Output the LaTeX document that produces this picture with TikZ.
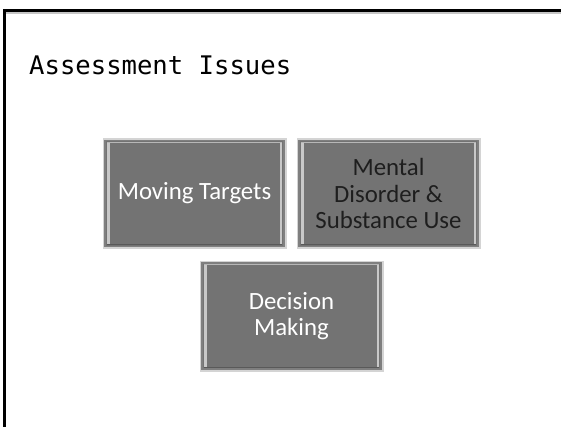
\documentclass[tikz,border=0pt]{standalone}
\usepackage{fontspec}
\setmainfont{Carlito}
\newfontfamily\titlefont{DejaVu Sans Mono}
\definecolor{boxfill}{HTML}{737373}
\definecolor{boxedge}{HTML}{7F7F7F}
\definecolor{halo}{HTML}{D4D4D4}
\definecolor{hilite}{HTML}{C8C8C8}
\definecolor{darktext}{HTML}{1E1E1E}
\begin{document}
\begin{tikzpicture}[x=1pt,y=-1pt,
  issuebox/.style={draw=boxedge, fill=boxfill, line width=1.2pt,
    preaction={draw=halo, line width=5pt},
    minimum width=179pt, minimum height=106pt, inner sep=0pt, align=center,
    font=\fontsize{24.8}{26.5}\selectfont, text=white},
  hl/.style={draw=hilite, line width=2.2pt},
  hltop/.style={draw=hilite!80!boxfill, line width=1pt},
  frameline/.style={line width=3pt, black}]
\useasboundingbox (0,0) rectangle (561,426);
% frame
\draw[gray!45, line width=1.5pt] (5,12.8) -- (566,12.8);
\draw[frameline] (4,430) -- (4,10) -- (566,10);
% title
\node[anchor=base west, inner sep=0pt, font=\titlefont\fontsize{25.6}{30}\selectfont] (t) at (29,74) {Assessment Issues};
% boxes
\node[issuebox] (a) at (194.5,193.5) {Moving Targets};
\node[issuebox, text=darktext] (b) at (388.5,193.5) {Mental\\Disorder \&\\Substance Use};
\node[issuebox] (c) at (291.5,316) {Decision\\Making};
% bevel highlights
\foreach \n in {a,b,c}{
  \draw[hl] ([xshift=4pt,yshift=-3pt]\n.north west) -- ([xshift=4pt,yshift=3pt]\n.south west);
  \draw[hl] ([xshift=-4pt,yshift=-3pt]\n.north east) -- ([xshift=-4pt,yshift=3pt]\n.south east);
  \draw[hltop] ([xshift=3pt,yshift=-2.5pt]\n.north west) -- ([xshift=-3pt,yshift=-2.5pt]\n.north east);
  \draw[draw=boxedge!70!black, line width=0.8pt] ([xshift=3pt,yshift=2.5pt]\n.south west) -- ([xshift=-3pt,yshift=2.5pt]\n.south east);
}
\end{tikzpicture}
\end{document}
